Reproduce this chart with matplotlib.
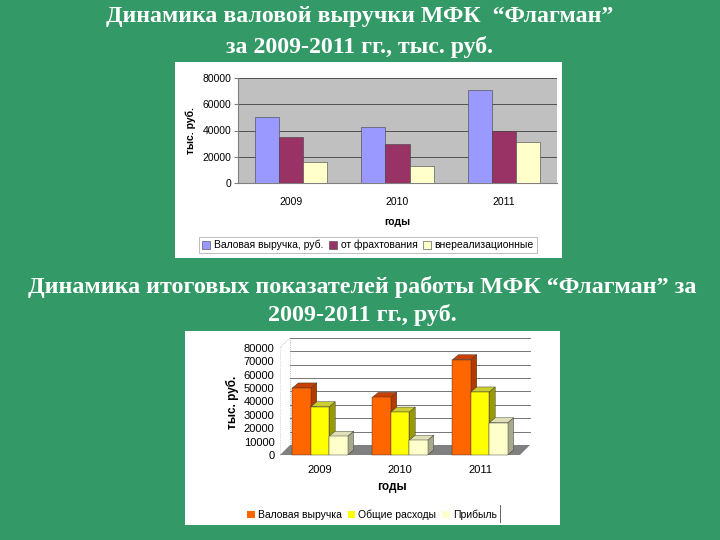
import matplotlib
matplotlib.use("Agg")
import matplotlib.pyplot as plt
from matplotlib.patches import Rectangle, Polygon, Patch
from matplotlib.lines import Line2D

# Daten
years = ["2009", "2010", "2011"]

# Diagramm 1: Valovaya vyruchka, tys. rub.
gross_revenue = [50000, 43000, 71000]
chartering = [35000, 30000, 40000]
non_operating = [16000, 13000, 31000]
labels_1 = ["Валовая выручка, руб.", "от фрахтования", "внереализационные"]

# Diagramm 2: itogovye pokazateli
revenue_2 = [50000, 43000, 71000]
expenses_2 = [36000, 32000, 47000]
profit_2 = [14000, 11000, 24000]
labels_2 = ["Валовая выручка", "Общие расходы", "Прибыль"]

title_1 = "Динамика валовой выручки МФК  “Флагман”\nза 2009-2011 гг., тыс. руб."
title_2 = "Динамика итоговых показателей работы МФК “Флагман” за\n2009-2011 гг., руб."

W, H = 720, 540
BG = "#339966"


def rect(x0, y0, x1, y1):
    # Pixel-Koordinaten -> Figure-Anteile
    return [x0 / W, 1 - y1 / H, (x1 - x0) / W, (y1 - y0) / H]


def fxy(x, y):
    return x / W, 1 - y / H


fig = plt.figure(figsize=(7.2, 5.4), dpi=100, facecolor=BG)

# Titel
fig.text(*fxy(360, 32), title_1, ha="center", va="center", color="white",
         fontsize=17.2, fontweight="bold", family="Liberation Serif", linespacing=1.5)
fig.text(*fxy(362, 301), title_2, ha="center", va="center", color="white",
         fontsize=17.4, fontweight="bold", family="Liberation Serif", linespacing=1.4)

# weisse Hintergruende der Diagramme
fig.add_artist(Rectangle(fxy(175, 258), 387 / W, 196 / H, transform=fig.transFigure,
                         facecolor="white", edgecolor="none", zorder=-5))
fig.add_artist(Rectangle(fxy(185, 525), 375 / W, 194 / H, transform=fig.transFigure,
                         facecolor="white", edgecolor="none", zorder=-5))

font = "Liberation Sans"

# ---------- Diagramm 1 ----------
ax1 = fig.add_axes(rect(238, 78, 557, 183))
ax1.set_facecolor("#C0C0C0")
x = range(len(years))
w1 = 0.226
colors_1 = ["#9999FF", "#993366", "#FFFFCC"]
for i, (vals, col) in enumerate(zip([gross_revenue, chartering, non_operating], colors_1)):
    ax1.bar([k + (i - 1) * w1 for k in x], vals, width=w1, color=col,
            edgecolor="#404040", linewidth=0.4, zorder=3)
ax1.set_xlim(-0.5, 2.5)
ax1.set_ylim(0, 80000)
ax1.set_yticks(range(0, 80001, 20000))
ax1.grid(axis="y", color="#404040", linewidth=0.6, zorder=1)
ax1.set_xticks(list(x))
ax1.set_xticklabels(years, family=font, fontsize=7.5)
for lab in ax1.get_yticklabels():
    lab.set_family(font)
    lab.set_fontsize(7.5)
ax1.tick_params(axis="x", length=0, pad=10)
ax1.tick_params(axis="y", length=3, pad=2, color="#808080")
for s in ["top", "right"]:
    ax1.spines[s].set_visible(False)
for s in ["left", "bottom"]:
    ax1.spines[s].set_color("#808080")
fig.text(*fxy(191, 130), "тыс. руб.", rotation=90, ha="center", va="center",
         family=font, fontsize=7.5, fontweight="bold")
fig.text(*fxy(397, 222), "годы", ha="center", va="center",
         family=font, fontsize=7.5, fontweight="bold")

h1 = [Patch(facecolor=c, edgecolor="#404040", linewidth=0.4) for c in colors_1]
leg1 = fig.legend(h1, labels_1, loc="center", bbox_to_anchor=fxy(368, 245), ncol=3,
                  prop={"family": font, "size": 7.5}, frameon=True, fancybox=False,
                  edgecolor="#A0A0A0", handlelength=0.8, handleheight=0.8,
                  handletextpad=0.35, columnspacing=0.5, borderpad=0.3,
                  borderaxespad=0)
leg1.get_frame().set_linewidth(0.6)

# ---------- Diagramm 2 (pseudo-3D) ----------
ax2 = fig.add_axes(rect(280, 347.7, 520, 455))
ax2.set_facecolor("none")
ax2.set_xlim(-0.5, 2.5)
ax2.set_ylim(0, 80000)
for s in ax2.spines.values():
    s.set_visible(False)

px_x = 3 / 240          # Dateneinheiten pro Pixel
px_y = 80000 / 107.3
wall_dx, wall_dy = 10 * px_x, 10 * px_y
bar_dx, bar_dy = 6 * px_x, 5 * px_y

# Boden
ax2.add_patch(Polygon([(-0.5, 0), (2.5, 0), (2.5 + wall_dx, wall_dy), (-0.5 + wall_dx, wall_dy)],
                      closed=True, facecolor="#808080", edgecolor="none", zorder=1, clip_on=False))
# Rueckwand-Gitter
ticks2 = list(range(0, 80001, 10000))
for v in ticks2[1:]:
    ax2.add_line(Line2D([-0.5 + wall_dx, 2.5 + wall_dx], [v + wall_dy, v + wall_dy],
                        color="#606060", linewidth=0.6, zorder=0.5, clip_on=False))
# linke Wand
ax2.add_line(Line2D([-0.5 + wall_dx, -0.5 + wall_dx], [wall_dy, 80000 + wall_dy],
                    color="#909090", linewidth=0.5, linestyle=":", zorder=0.5, clip_on=False))
ax2.add_line(Line2D([-0.5, -0.5 + wall_dx], [80000, 80000 + wall_dy],
                    color="#909090", linewidth=0.5, linestyle=":", zorder=0.5, clip_on=False))
ax2.add_line(Line2D([-0.5, -0.5], [0, 80000],
                    color="#B0B0B0", linewidth=0.5, linestyle=":", zorder=0.5, clip_on=False))

w2 = 0.23
styles_2 = [("#FF6600", "#B23C00", "#C84000"),
            ("#FFFF00", "#999900", "#CCCC33"),
            ("#FFFFCC", "#A8A88A", "#E0E0B8")]
for i, (vals, (front, side, top)) in enumerate(zip([revenue_2, expenses_2, profit_2], styles_2)):
    for k, v in enumerate(vals):
        x0 = k + (i - 1) * w2 - w2 / 2
        x1 = x0 + w2
        z = 2 + i
        ax2.add_patch(Polygon([(x1, 0), (x1 + bar_dx, bar_dy), (x1 + bar_dx, v + bar_dy), (x1, v)],
                              closed=True, facecolor=side, edgecolor="#303030", linewidth=0.3,
                              zorder=z, clip_on=False))
        ax2.add_patch(Polygon([(x0, v), (x0 + bar_dx, v + bar_dy), (x1 + bar_dx, v + bar_dy), (x1, v)],
                              closed=True, facecolor=top, edgecolor="#303030", linewidth=0.3,
                              zorder=z, clip_on=False))
        ax2.add_patch(Rectangle((x0, 0), w2, v, facecolor=front, edgecolor="#303030",
                                linewidth=0.3, zorder=z + 0.1, clip_on=False))

ax2.set_yticks(ticks2)
ax2.set_xticks([0, 1, 2])
ax2.set_xticklabels(years, family=font, fontsize=8)
for lab in ax2.get_yticklabels():
    lab.set_family(font)
    lab.set_fontsize(8)
ax2.tick_params(axis="y", length=0, pad=4)
ax2.tick_params(axis="x", length=0, pad=7)
fig.text(*fxy(232, 402), "тыс. руб.", rotation=90, ha="center", va="center",
         family=font, fontsize=8.5, fontweight="bold")
fig.text(*fxy(392, 487), "годы", ha="center", va="center",
         family=font, fontsize=8.5, fontweight="bold")

h2 = [Patch(facecolor=s[0], edgecolor="none") for s in styles_2]
leg2 = fig.legend(h2, labels_2, loc="center", bbox_to_anchor=fxy(372, 515), ncol=3,
                  prop={"family": font, "size": 7.5}, frameon=False,
                  handlelength=0.7, handleheight=0.7, handletextpad=0.3,
                  columnspacing=0.6, borderaxespad=0)
fig.add_artist(Line2D([500 / W, 500 / W], [1 - 522 / H, 1 - 505 / H],
                      transform=fig.transFigure, color="#606060", linewidth=0.7))

fig.savefig("out.png", dpi=100, facecolor=BG)
